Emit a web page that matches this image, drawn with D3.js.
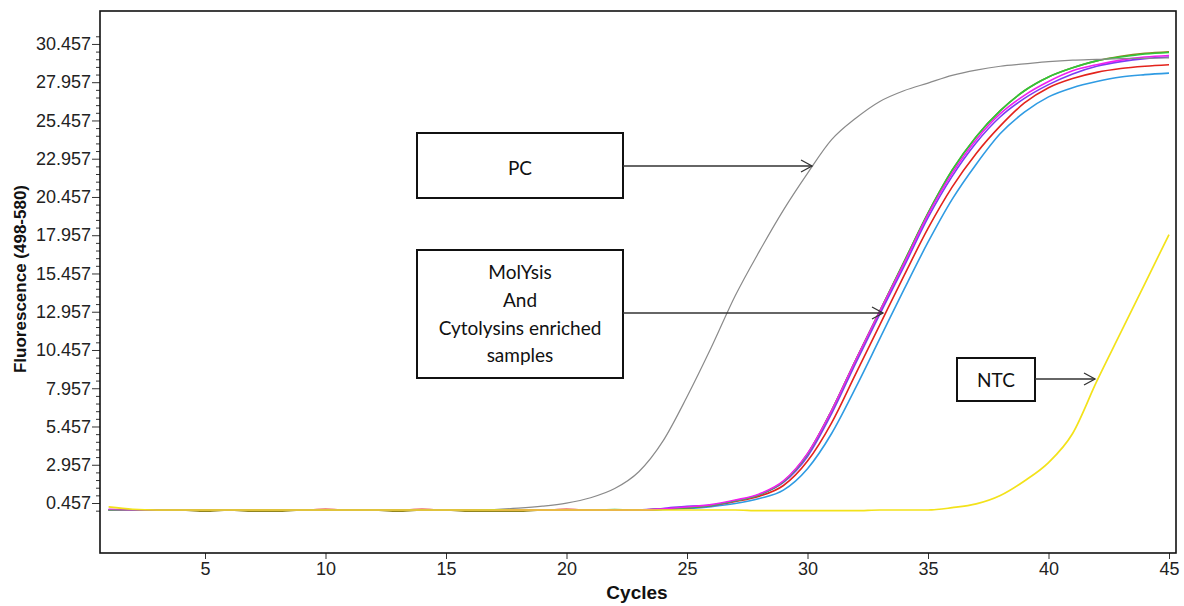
<!DOCTYPE html>
<html>
<head>
<meta charset="utf-8">
<script src="https://cdn.jsdelivr.net/npm/d3@7/dist/d3.min.js"></script>
<style>
  html, body { margin: 0; padding: 0; background: #fff; }
  svg { display: block; }
</style>
</head>
<body>
<svg id="chart" width="1184" height="606"></svg>
<script>
// ---------------- DATA ----------------
const cycles = [1,2,3,4,5,6,7,8,9,10,11,12,13,14,15,16,17,18,19,20,21,22,23,24,25,26,27,28,29,30,31,32,33,34,35,36,37,38,39,40,41,42,43,44,45];

const yTickValues = [0.457, 2.957, 5.457, 7.957, 10.457, 12.957, 15.457, 17.957, 20.457, 22.957, 25.457, 27.957, 30.457];
const yTickLabels = ["0.457","2.957","5.457","7.957","10.457","12.957","15.457","17.957","20.457","22.957","25.457","27.957","30.457"];
const xTickValues = [5, 10, 15, 20, 25, 30, 35, 40, 45];
const xTickLabels = ["5","10","15","20","25","30","35","40","45"];

// sample (MolYsis / Cytolysins enriched) curves
const olive   = [0,0,0,0,-0.08,0,-0.08,-0.08,0,0,0,0,-0.08,0,0,-0.08,-0.08,-0.08,0,0,0,0,0,0.05,0.15,0.3,0.6,1.0,1.85,3.65,6.5,9.8,13.0,16.2,19.4,22.2,24.4,26.1,27.4,28.3,28.9,29.35,29.65,29.85,29.95];
const green   = [0,0,0,0,0,0,0,0,0,0,0,0,0,0,0,0,0,0,0,0,0,0.03,0,0.05,0.15,0.3,0.6,1.0,1.85,3.65,6.5,9.8,13.0,16.2,19.4,22.2,24.4,26.1,27.4,28.3,28.9,29.35,29.6,29.8,29.9];
const purple  = [0,0,0,0,0,0,0,0,0,0,0,0,0,0,0,0,0,0,0,0,0,0,0,0.1,0.25,0.3,0.6,1.0,1.8,3.5,6.3,9.6,12.8,15.9,19.1,21.8,24.0,25.7,26.9,27.8,28.5,29.0,29.3,29.5,29.6];
const magenta = [0.05,0,0,0,0,0,0,0,0,0,0,0,0,0,0,0,0,0,0,0,0,0,0,0.08,0.2,0.35,0.65,1.05,1.9,3.7,6.5,9.8,13.0,16.1,19.3,22.0,24.2,25.9,27.1,28.0,28.7,29.1,29.4,29.6,29.7];
const red     = [0,0,0,0,0,0,0,0,0,0.04,0,0,0,0.04,0,0,0,0,0,0.04,0,0,0,0.06,0.15,0.28,0.55,0.9,1.6,3.2,5.7,8.9,12.1,15.3,18.4,21.1,23.3,25.1,26.6,27.6,28.2,28.6,28.85,29.0,29.1];
const blue    = [0,0,0,0,0,0,0,0,0,0,0,0,0,0,0,0,0,0,0,0,0,0,0,0.03,0.1,0.22,0.42,0.75,1.3,2.7,5.0,8.0,11.2,14.4,17.5,20.3,22.6,24.6,26.0,27.0,27.6,28.0,28.3,28.45,28.55];
// positive control
const pc      = [0,0,0,0,0,0,0,0,0,0,0,0,0,0,0,0,0.03,0.12,0.25,0.45,0.8,1.4,2.5,4.5,7.4,10.6,14.0,16.9,19.6,22.0,24.2,25.6,26.7,27.4,27.9,28.4,28.75,29.0,29.15,29.3,29.4,29.45,29.5,29.52,29.55];
// no template control
const ntc     = [0.2,0.05,0,0,0,0,0,0,0,0,0,0,0,0,0,0,0,0,0,0,0,0,0,0,0,0,0,-0.04,-0.04,-0.04,-0.04,-0.04,0,0,0,0.15,0.4,0.95,1.9,3.1,5.0,8.4,11.6,14.8,18.0];

const seriesNames  = ["olive","blue","red","purple","green","magenta","PC","NTC"];
const seriesValues = [olive, blue, red, purple, green, magenta, pc, ntc];
const seriesColors = ["#8f8420","#2f9be3","#e3231c","#7a3cf2","#2fc63a","#f01ef0","#8a8a8a","#f3e21a"];
const seriesWidths = [1.6,1.6,1.6,1.6,1.6,1.6,1.2,1.7];

const annotations = [
  {lines:["PC"]},
  {lines:["MolYsis","And","Cytolysins enriched","samples"]},
  {lines:["NTC"]}
];

// ---------------- LAYOUT ----------------
const svg = d3.select("#chart");
const plot = {left:100, top:11, right:1176, bottom:553};

svg.append("rect").attr("width",1184).attr("height",606).attr("fill","#fff");

const x = d3.scaleLinear().domain([0.643, 45.29]).range([plot.left, plot.right]);
const y = d3.scaleLinear().domain([-2.81, 32.61]).range([plot.bottom, plot.top]);

const tickFont = "'Liberation Sans', Arial, sans-serif";

// minor y ticks
const minorVals = [];
for (let k = -1; k <= 61; k++) { const v = +(0.457 + k*0.5).toFixed(3); if (k % 5 !== 0) minorVals.push(v); }
svg.append("g")
  .attr("transform", `translate(${plot.left},0)`)
  .call(d3.axisLeft(y).tickValues(minorVals).tickSize(4).tickFormat(""))
  .call(g => g.select(".domain").remove())
  .call(g => g.selectAll("line").attr("stroke","#333"));

// major y ticks
svg.append("g")
  .attr("transform", `translate(${plot.left},0)`)
  .call(d3.axisLeft(y).tickValues(yTickValues).tickSize(8).tickPadding(1)
        .tickFormat((d,i) => yTickLabels[i]))
  .call(g => g.select(".domain").remove())
  .call(g => g.selectAll("line").attr("stroke","#333"))
  .call(g => g.selectAll("text").attr("font-family", tickFont).attr("font-size", 18).attr("fill","#222"));

// x ticks
svg.append("g")
  .attr("transform", `translate(0,${plot.bottom})`)
  .call(d3.axisBottom(x).tickValues(xTickValues).tickSize(6).tickPadding(3)
        .tickFormat((d,i) => xTickLabels[i]))
  .call(g => g.select(".domain").remove())
  .call(g => g.selectAll("line").attr("stroke","#333"))
  .call(g => g.selectAll("text").attr("font-family", tickFont).attr("font-size", 18).attr("fill","#222"));

// curves
const line = d3.line()
  .x((d,i) => x(cycles[i]))
  .y(d => y(d))
  .curve(d3.curveMonotoneX);

const g = svg.append("g");
seriesValues.forEach((vals, i) => {
  g.append("path")
    .datum(vals)
    .attr("d", line)
    .attr("fill","none")
    .attr("stroke", seriesColors[i])
    .attr("stroke-width", seriesWidths[i])
    .attr("data-name", seriesNames[i]);
});

// frame
svg.append("rect")
  .attr("x", plot.left).attr("y", plot.top)
  .attr("width", plot.right - plot.left).attr("height", plot.bottom - plot.top)
  .attr("fill","none").attr("stroke","#111").attr("stroke-width",1.6);

// axis titles
svg.append("text")
  .attr("x", 637).attr("y", 599)
  .attr("text-anchor","middle")
  .attr("font-family", tickFont).attr("font-weight","bold").attr("font-size", 19)
  .attr("fill","#111")
  .text("Cycles");

svg.append("text")
  .attr("transform","translate(26,279) rotate(-90)")
  .attr("text-anchor","middle")
  .attr("font-family", tickFont).attr("font-weight","bold").attr("font-size", 17)
  .attr("fill","#111")
  .text("Fluorescence (498-580)");

// annotations (boxes + arrows)
const boxes = [
  {x:417, y:133, w:206, h:65, ay:166, tip:812, textY:[175]},
  {x:417, y:250, w:206, h:128, ay:313, tip:883, textY:[279, 307, 335, 362]},
  {x:957, y:358, w:78,  h:43,  ay:379, tip:1095, textY:[387]}
];
const annFont = "Lato, 'Open Sans', sans-serif";
boxes.forEach((b, i) => {
  const a = svg.append("g");
  a.append("rect").attr("x",b.x).attr("y",b.y).attr("width",b.w).attr("height",b.h)
    .attr("fill","#fff").attr("stroke","#111").attr("stroke-width",2);
  annotations[i].lines.forEach((t, j) => {
    a.append("text").attr("x", b.x + b.w/2).attr("y", b.textY[j])
      .attr("text-anchor","middle").attr("font-family", annFont).attr("font-size", 19)
      .attr("fill","#111").text(t);
  });
  a.append("line").attr("x1", b.x + b.w).attr("y1", b.ay).attr("x2", b.tip).attr("y2", b.ay)
    .attr("stroke","#333").attr("stroke-width",1.3);
  a.append("polyline")
    .attr("points", `${b.tip-11},${b.ay-6} ${b.tip},${b.ay} ${b.tip-11},${b.ay+6}`)
    .attr("fill","none").attr("stroke","#333").attr("stroke-width",1.3);
});
</script>
</body>
</html>
